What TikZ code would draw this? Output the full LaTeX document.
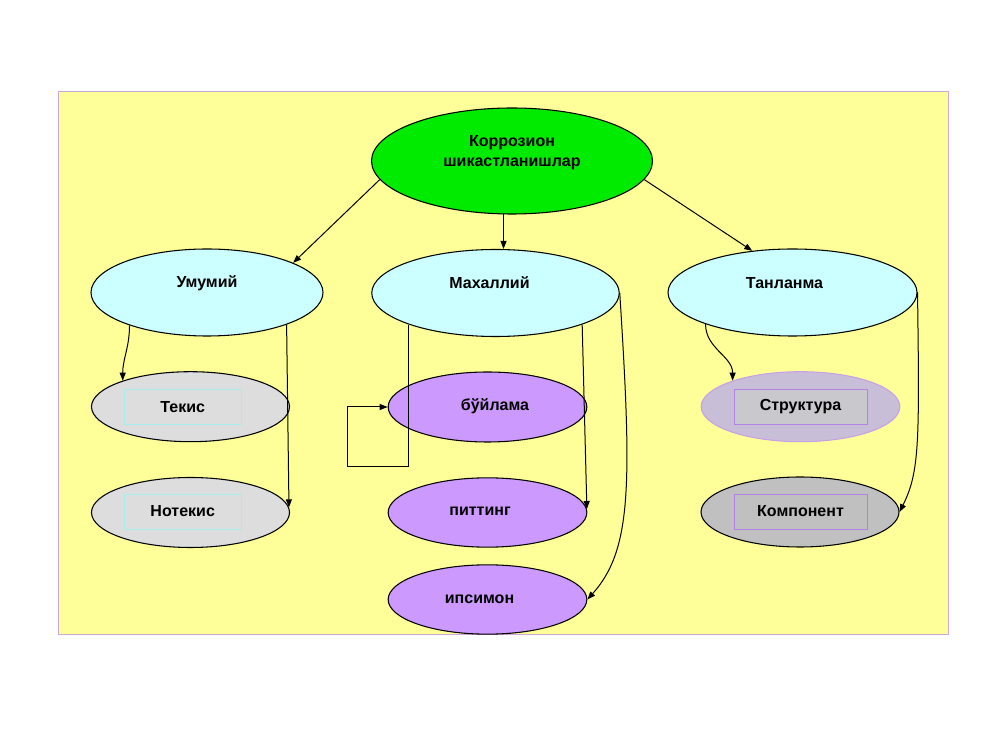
\documentclass[tikz,border=0pt]{standalone}
\usepackage{fontspec}
\setmainfont{Liberation Sans}
\usepackage{xcolor}
\usetikzlibrary{shapes.geometric,arrows.meta}

\definecolor{bgyellow}{HTML}{FFFF99}
\definecolor{bgline}{HTML}{D0A8D8}
\definecolor{topgreen}{HTML}{00EB00}
\definecolor{paleblue}{HTML}{CCFFFF}
\definecolor{lightgray}{HTML}{DDDDDD}
\definecolor{midgray}{HTML}{C0C0C0}
\definecolor{lilac}{HTML}{CC99FF}
\definecolor{greylilac}{HTML}{C8BED7}
\definecolor{lilacline}{HTML}{C8A0E6}
\definecolor{boxcyan}{HTML}{A8ECEC}
\definecolor{boxgray}{HTML}{C8C8CD}
\definecolor{boxlilac}{HTML}{B482E6}

\begin{document}
\begin{tikzpicture}[x=0.75pt,y=0.75pt,
  oval/.style={ellipse, draw=black, line width=0.8pt, inner sep=0pt},
  lbl/.style={font=\bfseries\fontsize{12}{15}\selectfont, align=center},
  inbox/.style={rectangle, inner sep=0pt, line width=0.4pt, minimum height=26.25pt},
  arr/.style={-{Triangle[length=6pt,width=4.5pt]}, line width=0.75pt}]
  \useasboundingbox (0,0) rectangle (1000,750);

  % background
  \draw[bgline, fill=bgyellow, line width=0.6pt] (58,116) rectangle (948,659);

  % ovals
  \node[oval, fill=topgreen, minimum width=210.75pt, minimum height=79.5pt] (top) at (512,589) {};
  \node[oval, fill=paleblue, minimum width=174pt, minimum height=65.25pt] (u) at (207,457.5) {};
  \node[oval, fill=paleblue, minimum width=185.6pt, minimum height=65.25pt] (m) at (495.5,457) {};
  \node[oval, fill=paleblue, minimum width=186.75pt, minimum height=65.25pt] (t) at (792.5,457.5) {};

  \node[oval, fill=lightgray, minimum width=148.5pt, minimum height=52.5pt] (tx) at (190.5,343.3) {};
  \node[oval, fill=lightgray, minimum width=148.5pt, minimum height=52.5pt] (nt) at (190.5,237.5) {};
  \node[oval, fill=lilac, minimum width=149pt, minimum height=52.5pt] (b) at (487.5,343) {};
  \node[oval, fill=lilac, minimum width=149pt, minimum height=52pt] (pt) at (487.5,237.5) {};
  \node[oval, fill=lilac, minimum width=149pt, minimum height=52pt] (ip) at (487.5,150.5) {};
  \node[oval, draw=lilacline, fill=greylilac, minimum width=149pt, minimum height=52.5pt] (st) at (800.5,343.3) {};
  \node[oval, fill=midgray, minimum width=148.5pt, minimum height=52.5pt] (k) at (800,238) {};

  % texts
  \node[lbl] (toptext) at (512,597) {Коррозион\\шикастланишлар};
  \node[lbl] (utext) at (207,467) {Умумий};
  \node[lbl] (mtext) at (489.5,467) {Махаллий};
  \node[lbl] (ttext) at (784.5,467) {Танланма};

  \node[lbl, inbox, draw=boxcyan, minimum width=87.75pt] (txbox) at (182.7,343.2) {Текис};
  \node[lbl, inbox, draw=boxcyan, minimum width=87.75pt] (ntbox) at (182.7,238.5) {Нотекис};
  \node[lbl] (btext) at (495,344) {бўйлама};
  \node[lbl] (pttext) at (480,238.5) {питтинг};
  \node[lbl] (iptext) at (479.5,151) {ипсимон};
  \node[lbl, inbox, draw=boxlilac, fill=boxgray, minimum width=99.75pt] (stbox) at (800.5,343.5) {Структура};
  \node[lbl, inbox, draw=boxlilac, fill=midgray, minimum width=99.75pt] (kbox) at (800.5,238.5) {Компонент};

  % arrows
  \draw[arr] (top.188) -- (u.19);
  \draw[arr] (top.261) -- (top.261 |- m.north);
  \draw[arr] (top.352) -- (t.134);

  \draw[arr] (u.203) to[out=-90,in=90] (tx.159);
  \draw[arr] (u.338) -- (nt.3);

  \draw[arr] (m.200) -- ++(0,-142) -- ++(-61,0) |- (b.west);
  \draw[arr] (m.340) -- (pt.2);
  \draw[arr] (m.east) .. controls +(12,-190) and +(45,50) .. (ip.east);

  \draw[arr] (t.200) to[out=-90,in=90] (st.159);
  \draw[arr] (t.east) .. controls +(2,-150) and +(20,40) .. (k.east);
\end{tikzpicture}
\end{document}
